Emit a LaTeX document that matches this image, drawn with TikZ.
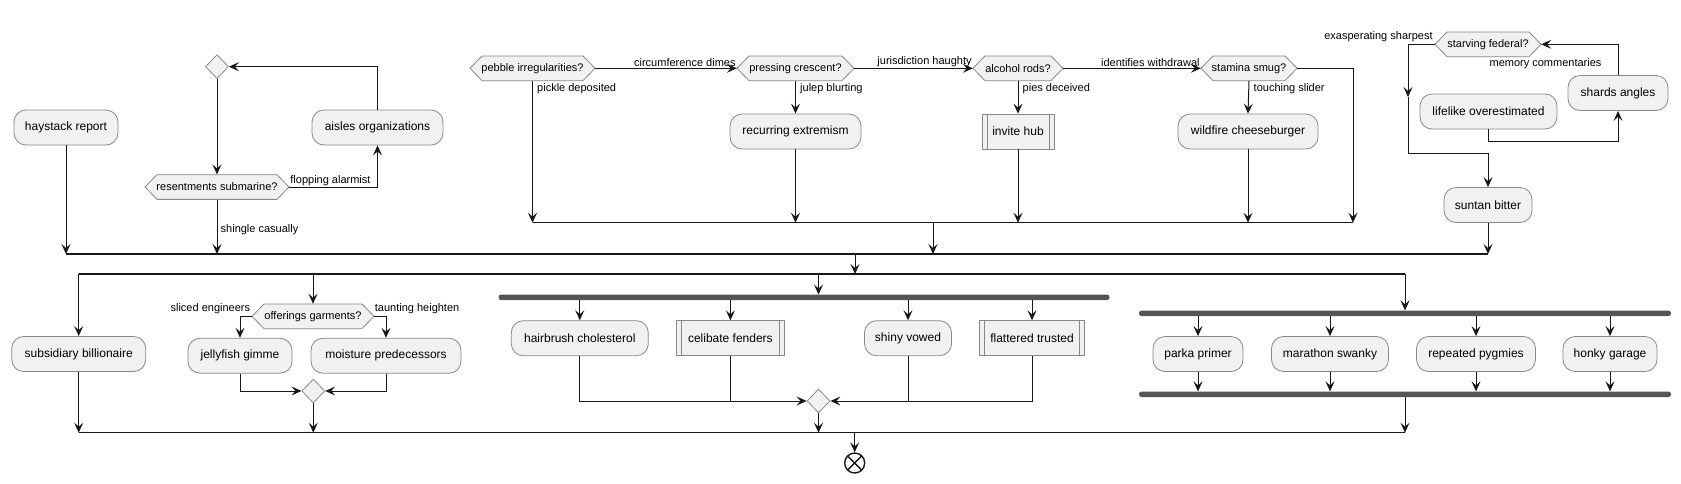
\documentclass[tikz,border=0pt]{standalone}
\usepackage{fontspec}
\setmainfont{Liberation Sans}
\usetikzlibrary{arrows.meta,shapes.geometric,calc}
\definecolor{boxfill}{HTML}{F1F1F1}
\definecolor{boxline}{HTML}{888888}
\definecolor{linecol}{HTML}{181818}
\definecolor{barcol}{HTML}{555555}
\tikzset{
  act/.style={rectangle, rounded corners=12pt, draw=boxline, fill=boxfill, line width=0.8pt,
    minimum height=35pt, inner sep=0pt, font=\fontsize{12}{14}\selectfont, text=black},
  subproc/.style={rectangle, draw=boxline, fill=boxfill, line width=0.8pt,
    minimum height=35pt, inner sep=0pt, font=\fontsize{12}{14}\selectfont, text=black,
    path picture={
      \draw[boxline, line width=0.8pt] ([xshift=5pt]path picture bounding box.north west) -- ([xshift=5pt]path picture bounding box.south west);
      \draw[boxline, line width=0.8pt] ([xshift=-5pt]path picture bounding box.north east) -- ([xshift=-5pt]path picture bounding box.south east);}},
  hexsty/.style={draw=boxline, fill=boxfill, line width=0.8pt},
  hextxt/.style={rectangle, draw=none, minimum height=24.7pt, inner sep=0pt, font=\fontsize{11}{13}\selectfont},
  merge/.style={diamond, draw=boxline, fill=boxfill, line width=0.8pt, minimum width=23pt, minimum height=24pt, inner sep=0pt},
  lbl/.style={font=\fontsize{11}{13}\selectfont, inner sep=1pt},
  conn/.style={draw=linecol, line width=1pt},
  arr/.style={conn, -{Stealth[length=10pt,width=9pt,inset=4pt]}},
  barline/.style={draw=linecol, line width=1.3pt},
  forkbar/.style={rectangle, rounded corners=2.5pt, fill=barcol, draw=none, minimum height=5.5pt, inner sep=0pt},
}
\newcommand\hexnode[5]{%
  \filldraw[hexsty] (#2-#4,#3) -- (#2-#4+12,#3-12.35) -- (#2+#4-12,#3-12.35) -- (#2+#4,#3) -- (#2+#4-12,#3+12.35) -- (#2-#4+12,#3+12.35) -- cycle;
  \node[hextxt, minimum width=2*#4 pt] (#1) at (#2,#3) {#5};
}
\begin{document}
\begin{tikzpicture}[x=1pt,y=-1pt]
\useasboundingbox (0,0) rectangle (1681,483);

% ---------- top row ----------
\node[act, minimum width=104pt] (hay) at (66,127.5) {haystack report};
\node[merge] (m1) at (217,66.7) {};
\hexnode{res}{217}{187}{72}{resentments submarine?}
\node[act, minimum width=131pt] (aisles) at (377.5,127.5) {aisles organizations};

\hexnode{peb}{532.5}{68.3}{62.5}{pebble irregularities?}
\hexnode{pre}{795.5}{68.3}{58.5}{pressing crescent?}
\hexnode{alc}{1018}{68.3}{45}{alcohol rods?}
\hexnode{sta}{1249}{68.3}{48}{stamina smug?}
\node[act, minimum width=131pt] (rec) at (795.5,131.5) {recurring extremism};
\node[subproc, minimum width=72pt] (inv) at (1018,131.5) {invite hub};
\node[act, minimum width=140pt] (wild) at (1248,131.5) {wildfire cheeseburger};

\hexnode{sv}{1488}{44.3}{53}{starving federal?}
\node[act, minimum width=137pt] (life) at (1488.5,111.5) {lifelike overestimated};
\node[act, minimum width=100pt] (shards) at (1618,93) {shards angles};
\node[act, minimum width=88pt] (sun) at (1488,205) {suntan bitter};

% bar coordinates
\coordinate (b1l) at (532.5,222.7);
\coordinate (b1r) at (1353,222.7);
\coordinate (b2l) at (66,254);
\coordinate (b2r) at (1488,254);
\coordinate (b3l) at (78.7,274);
\coordinate (b3r) at (1405,274);
\coordinate (b4l) at (78.7,432.7);
\coordinate (b4r) at (1405,432.7);

\draw[barline] (b1l) -- (b1r);
\draw[barline] (b2l) -- (b2r);
\draw[barline] (b3l) -- (b3r);
\draw[barline] (b4l) -- (b4r);

% left loop
\draw[arr] (hay.south) -- (b2l);
\draw[arr] (m1.south) -- (res.north);
\draw[arr] (res.south) -- (217,254);
\node[lbl, anchor=west] (lshingle) at (219.5,230) {shingle casually};
\draw[arr] (res.east) -| (aisles.south);
\node[lbl, anchor=south west] (lflop) at ($(res.east)+(0,-0.5)$) {flopping alarmist};
\draw[arr] (aisles.north) |- (m1.east);

% decision chain
\draw[arr] (peb.east) -- (pre.west);
\node[lbl, anchor=south east] (lcirc) at ($(pre.west)+(0,-0.3)$) {circumference dimes};
\draw[arr] (peb.south) -- (b1l);
\node[lbl, anchor=north west] (lpick) at ($(peb.south)+(3.5,1.5)$) {pickle deposited};
\draw[arr] (pre.east) -- (alc.west);
\node[lbl, anchor=south east] (ljur) at ($(alc.west)+(0,-0.3)$) {jurisdiction haughty};
\draw[arr] (pre.south) -- (rec.north);
\node[lbl, anchor=north west] (ljul) at ($(pre.south)+(3.5,1.5)$) {julep blurting};
\draw[arr] (rec.south) -- (795.5,222.7);
\draw[arr] (alc.east) -- (sta.west);
\node[lbl, anchor=south east] (lid) at ($(sta.west)+(0,-0.3)$) {identifies withdrawal};
\draw[arr] (alc.south) -- (inv.north);
\node[lbl, anchor=north west] (lpies) at ($(alc.south)+(3.5,1.5)$) {pies deceived};
\draw[arr] (inv.south) -- (1018,222.7);
\draw[arr] (sta.south) -- (wild.north);
\node[lbl, anchor=north west] (ltouch) at ($(sta.south)+(3.5,1.5)$) {touching slider};
\draw[arr] (wild.south) -- (1248,222.7);
\draw[arr] (sta.east) -| (b1r);
\draw[arr] (933,222.7) -- (933,254);

% right loop
\coordinate (svl) at (1408,44.3);
\coordinate (svmid) at (1408,97);
\draw[arr] (sv.west) -- (svl) -- (svmid);
\draw[arr] (svmid) -- (1408,153.3) -| (sun.north);
\node[lbl, anchor=south east] (lexa) at ($(sv.west)+(-1,-1.5)$) {exasperating sharpest};
\draw[arr] (life.south) -- (1488.5,141) -| (shards.south);
\draw[arr] (shards.north) |- (sv.east);
\node[lbl] (lmem) at (1545.5,63.3) {memory commentaries};
\draw[arr] (sun.south) -- (1488,254);

\draw[arr] (855,254) -- (855,274);

% ---------- bottom row ----------
\node[act, minimum width=134pt] (sub) at (78.7,354) {subsidiary billionaire};
\draw[arr] (b3l) -- (sub.north);
\draw[arr] (sub.south) -- (b4l);

\hexnode{off}{313}{316.3}{61}{offerings garments?}
\node[act, minimum width=104pt] (jel) at (240,355.7) {jellyfish gimme};
\node[act, minimum width=150pt] (moi) at (386,355.7) {moisture predecessors};
\node[merge] (m2) at (313.3,391) {};
\draw[arr] (313,274) -- (off.north);
\draw[arr] (off.west) -| (jel.north);
\node[lbl, anchor=south east] (lsliced) at ($(off.west)+(-0.5,-1)$) {sliced engineers};
\draw[arr] (off.east) -| (moi.north);
\node[lbl, anchor=south west] (ltaunt) at ($(off.east)+(-0.5,-1)$) {taunting heighten};
\draw[arr] (jel.south) |- (m2.west);
\draw[arr] (moi.south) |- (m2.east);
\draw[arr] (m2.south) -- (313.3,432.7);

% fork 1
\node[forkbar, minimum width=611pt] (f1) at (804,297.3) {};
\draw[arr] (818.5,274) -- (818.5,294.5);
\node[act, minimum width=137pt] (hair) at (579.8,338.2) {hairbrush cholesterol};
\node[subproc, minimum width=108pt] (celi) at (730.4,338.2) {celibate fenders};
\node[act, minimum width=87pt] (shiny) at (908,338.2) {shiny vowed};
\node[subproc, minimum width=105pt] (flat) at (1032,338.2) {flattered trusted};
\foreach \n in {hair,celi,shiny,flat}{
  \draw[arr] (\n.north |- f1.south) -- (\n.north);
}
\node[merge] (m3) at (818.5,401) {};
\draw[arr] (hair.south) |- (m3.west);
\draw[conn] (celi.south) -- (celi.south |- m3.west);
\draw[conn] (shiny.south) -- (shiny.south |- m3.east);
\draw[arr] (flat.south) |- (m3.east);
\draw[arr] (m3.south) -- (818.5,432.7);

% fork 2
\node[forkbar, minimum width=532pt] (f2) at (1405,313.3) {};
\node[forkbar, minimum width=532pt] (j2) at (1405,394.3) {};
\draw[arr] (b3r) -- (f2.north);
\node[act, minimum width=90pt] (parka) at (1198,354) {parka primer};
\node[act, minimum width=117pt] (mara) at (1330,354) {marathon swanky};
\node[act, minimum width=119pt] (rep) at (1476,354) {repeated pygmies};
\node[act, minimum width=94pt] (honk) at (1610,354) {honky garage};
\foreach \n in {parka,mara,rep,honk}{
  \draw[arr] (\n.north |- f2.south) -- (\n.north);
  \draw[arr] (\n.south) -- (\n.south |- j2.north);
}
\draw[arr] (j2.south) -- (b4r);

% end
\node[circle, draw=linecol, line width=1.4pt, fill=white, minimum size=20pt, inner sep=0pt] (stop) at (854.7,463) {};
\draw[linecol, line width=1.4pt] ($(stop.center)+(-7,-7)$) -- ($(stop.center)+(7,7)$);
\draw[linecol, line width=1.4pt] ($(stop.center)+(-7,7)$) -- ($(stop.center)+(7,-7)$);
\draw[arr] (854.7,432.7) -- (stop.north);
\end{tikzpicture}
\end{document}
